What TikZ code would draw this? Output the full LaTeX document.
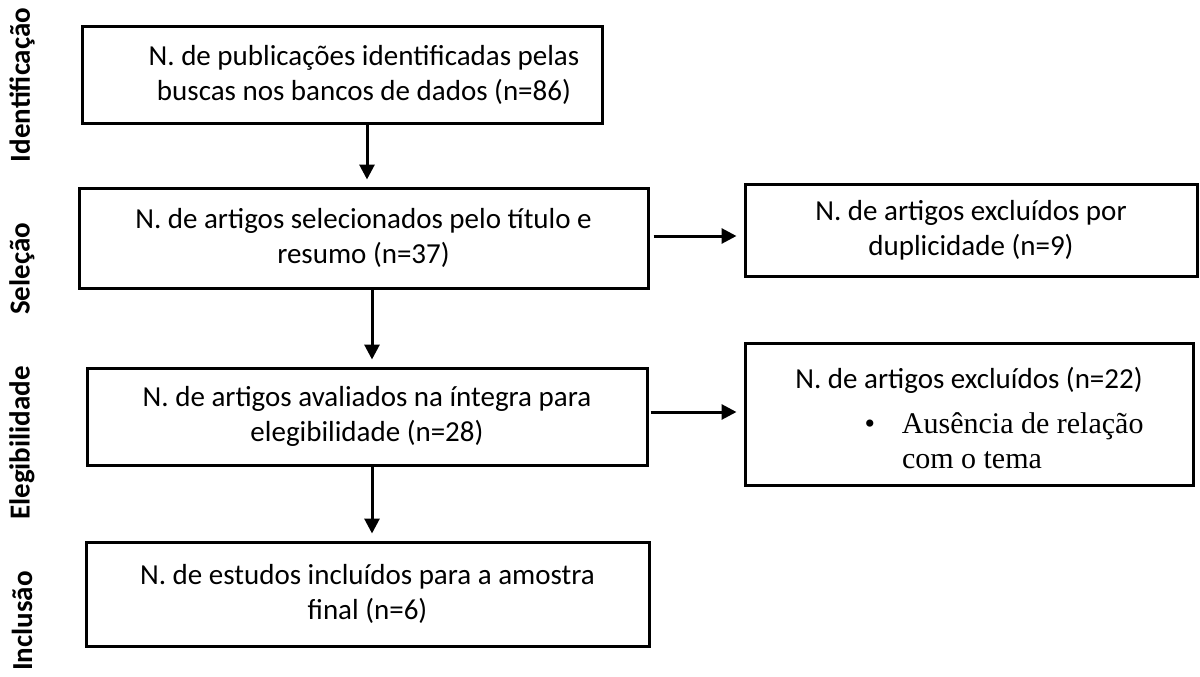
\documentclass[tikz,border=0pt]{standalone}
\usepackage{fontspec}
\setmainfont{Carlito}
\newfontfamily\timesfont{Liberation Serif}
\usetikzlibrary{arrows.meta}

\begin{document}
\begin{tikzpicture}[x=1pt,y=-1pt,
    caixa/.style={draw, line width=3pt, align=center, inner sep=0pt,
        font=\fontsize{29}{35}\selectfont},
    fase/.style={rotate=90, inner sep=0pt,
        font=\fontsize{29}{35}\selectfont\bfseries},
    seta/.style={line width=3pt, -{Triangle[length=15pt,width=15pt]},
        shorten >=7pt}]
            \useasboundingbox (0,0) rectangle (1200,677);

            % fases
            \node[fase] (fIdent) at (22,85) {Identificação};
            \node[fase] (fSelec) at (22,269) {Seleção};
            \node[fase] (fEleg) at (22,443) {Elegibilidade};
            \node[fase, anchor=east] (fIncl) at (22,571) {Inclusão};

            % caixas
            \node[caixa, minimum width=520pt, minimum height=96pt] (ident) at (342,75)
                {\hspace*{44pt}N. de publicações identificadas pelas\\
                 \hspace*{44pt}buscas nos bancos de dados (n=86)};
            \node[caixa, minimum width=569pt, minimum height=100pt] (selec) at (363.5,238)
                {N. de artigos selecionados pelo título e\\resumo (n=37)};
            \node[caixa, minimum width=452pt, minimum height=92pt] (dupl) at (971,230)
                {N. de artigos excluídos por\\duplicidade (n=9)};
            \node[caixa, minimum width=560pt, minimum height=97pt] (eleg) at (367,416.5)
                {N. de artigos avaliados na íntegra para\\elegibilidade (n=28)};
            \node[caixa, minimum width=448pt, minimum height=142pt] (excl) at (969,414)
                {\rule{0pt}{30pt}N. de artigos excluídos (n=22)\\[10pt]
                 {\timesfont\fontsize{30}{33}\selectfont
                  \makebox[366pt][l]{\hspace*{116pt}\llap{\textbullet\hspace{27pt}}Ausência de relação}}\\
                 {\timesfont\fontsize{30}{33}\selectfont
                  \makebox[366pt][l]{\hspace*{116pt}com o tema}}};
            \node[caixa, minimum width=563pt, minimum height=104pt] (incl) at (367.5,594)
                {N. de estudos incluídos para a amostra\\final (n=6)};

            % setas
            \draw[seta] ([xshift=25pt]ident.south) -- ([xshift=25pt]ident.south |- selec.north);
            \draw[seta] ([xshift=8.5pt]selec.south) -- ([xshift=8.5pt]selec.south |- eleg.north);
            \draw[seta] ([xshift=5pt]eleg.south) -- ([xshift=5pt]eleg.south |- incl.north);
            \draw[seta, shorten <=4pt] ([yshift=2pt]selec.east) -- ([yshift=2pt]selec.east -| dupl.west);
            \draw[seta, shorten <=2pt] ([yshift=4.5pt]eleg.east) -- ([yshift=4.5pt]eleg.east -| excl.west);
\end{tikzpicture}
\end{document}
